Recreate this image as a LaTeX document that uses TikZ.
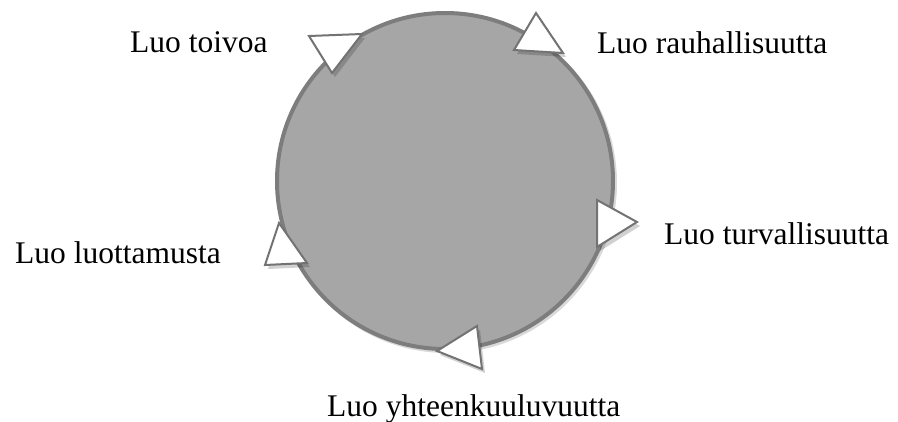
\documentclass[tikz,border=0pt]{standalone}
\usepackage{fontspec}
\setmainfont{Liberation Serif}
\begin{document}
\begin{tikzpicture}[x=1pt,y=-1pt,
  lbl/.style={anchor=base west,inner sep=0pt,font=\fontsize{31.5}{36}\selectfont},
  tri/.style={fill=white,draw=gray!110,line width=2pt,line join=miter},
  trishadow/.style={fill=black,opacity=0.18,draw=none}]
\useasboundingbox (0,0) rectangle (898,421);
% circle
\fill[black,opacity=0.15] (447,183) circle (170);
\draw[fill={rgb,255:red,166;green,166;blue,166},draw={rgb,255:red,125;green,125;blue,125},line width=4pt] (445,181) circle (168);
% triangles with shadows
\foreach \a/\b/\c in {{(309,36)}/{(362,34)}/{(332,73)},
                      {(536,13)}/{(514,50)}/{(563,53)},
                      {(597,200)}/{(637,222)}/{(597,247)},
                      {(477,326)}/{(437,351)}/{(482,369)},
                      {(279,223)}/{(265,265)}/{(307,263)}}{
  \fill[trishadow,shift={(3,4)}] \a -- \b -- \c -- cycle;
  \draw[tri] \a -- \b -- \c -- cycle;
}
% labels
\node[lbl] (t1) at (130,52) {Luo toivoa};
\node[lbl] (t2) at (597,53) {Luo rauhallisuutta};
\node[lbl] (t3) at (664,244) {Luo turvallisuutta};
\node[lbl] (t4) at (15,263) {Luo luottamusta};
\node[lbl] (t5) at (327,416) {Luo yhteenkuuluvuutta};
\end{tikzpicture}
\end{document}
